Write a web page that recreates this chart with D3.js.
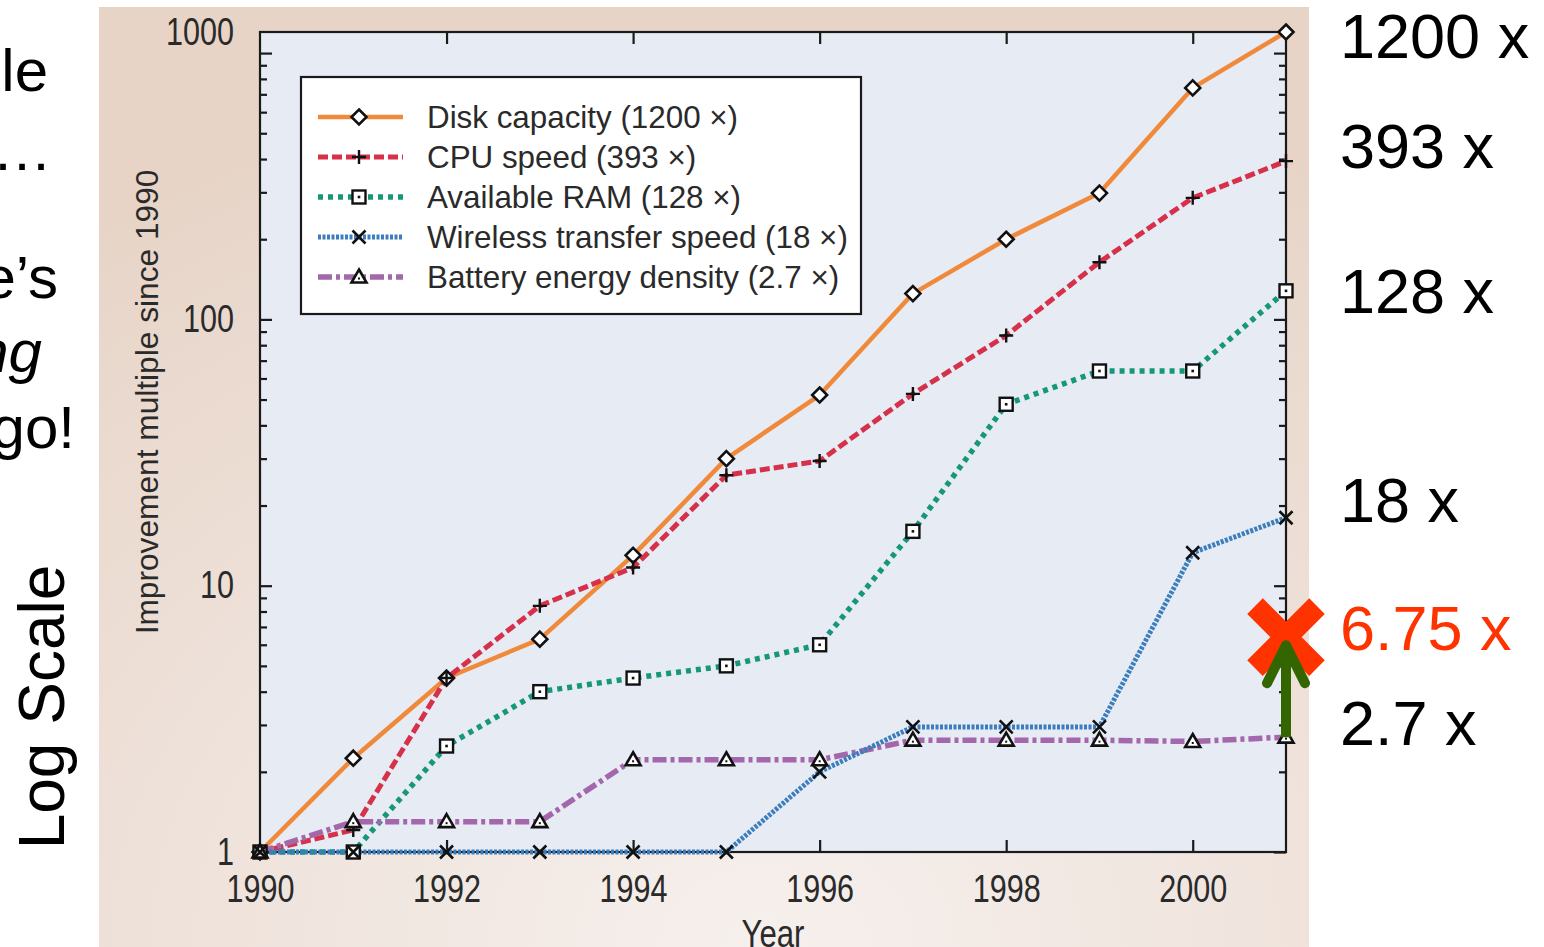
<!DOCTYPE html>
<html><head><meta charset="utf-8">
<script src="https://cdn.jsdelivr.net/npm/d3@7"></script>
<style>html,body{margin:0;padding:0;background:#fff;overflow:hidden}</style>
</head><body><svg id="c" width="1544" height="947"></svg>
<script>
// ---------- data ----------
const years = [1990,1991,1992,1993,1994,1995,1996,1997,1998,1999,2000,2001];
const seriesNames = ["Disk capacity (1200 \u00d7)","CPU speed (393 \u00d7)","Available RAM (128 \u00d7)","Wireless transfer speed (18 \u00d7)","Battery energy density (2.7 \u00d7)"];
const diskCapacity   = [1, 2.25, 4.5, 6.3, 13, 30, 52, 125, 200, 298, 740, 1200];
const cpuSpeed       = [1, 1.21, 4.5, 8.4, 11.7, 26, 29.4, 52.5, 87, 164, 286, 393];
const availableRam   = [1, 1, 2.5, 4.0, 4.5, 5.0, 6.0, 16, 48, 64, 64, 128];
const wirelessSpeed  = [1, 1, 1, 1, 1, 1, 2.0, 2.95, 2.95, 2.95, 13.3, 18];
const batteryDensity = [1, 1.3, 1.3, 1.3, 2.22, 2.22, 2.22, 2.63, 2.63, 2.63, 2.6, 2.7];
const xTickYears = [1990,1992,1994,1996,1998,2000];
const yLabelValues = [1,10,100,1200];
const yLabelTexts = ["1","10","100","1000"];
const yMajorTicks = [1,10,100,1000];
const yMinorTicks = [2,3,4,5,6,7,8,9,20,30,40,50,60,70,80,90,200,300,400,500,600,700,800,900];
const endLabels = ["1200 x","393 x","128 x","18 x","6.75 x","2.7 x"];
const endValues = [1200,393,128,18,6.75,2.7];
const projectedValue = 6.75;
const batteryEnd = 2.7;
const sideFragments = ["le","\u2026","e\u2019s","ng","go!"];
const sideTitle = "Log Scale";
const xTitle = "Year";
const yTitle = "Improvement multiple since 1990";

// ---------- layout / style ----------
const W = 1544, H = 947;
const plot = {l:260, r:1286, t:32, b:852};
const styles = [
  {color:"#f08a3a", width:4.5, dash:null,        marker:"diamond"},
  {color:"#d6304a", width:5,   dash:"10,4",      marker:"plus"},
  {color:"#17977a", width:5.5, dash:"5,5",       marker:"square"},
  {color:"#3b7dbd", width:5,   dash:"3,1.5",     marker:"times"},
  {color:"#a467ab", width:5.5, dash:"14,4,4,4",  marker:"triangle"}
];
const seriesData = [diskCapacity, cpuSpeed, availableRam, wirelessSpeed, batteryDensity];
const drawOrder = [0,1,2,4,3];
const condensedFont = "'Liberation Sans Narrow','Liberation Sans',Arial,sans-serif";
const plainFont = "'Liberation Sans',Arial,sans-serif";

const svg = d3.select("#c");
const defs = svg.append("defs");
const grad = defs.append("radialGradient").attr("id","panelGrad")
  .attr("cx","55%").attr("cy","100%").attr("r","95%");
grad.append("stop").attr("offset","0%").attr("stop-color","#f6f0ed");
grad.append("stop").attr("offset","55%").attr("stop-color","#eee1d9");
grad.append("stop").attr("offset","100%").attr("stop-color","#e7d4c7");

// panel
svg.append("rect").attr("x",99).attr("y",7).attr("width",1309-99).attr("height",H-7).attr("fill","url(#panelGrad)");

const x = d3.scaleLinear().domain([1990,2001]).range([plot.l, plot.r]);
const y = d3.scaleLog().domain([1,1200]).range([plot.b, plot.t]);

// plot background
svg.append("rect").attr("x",plot.l).attr("y",plot.t).attr("width",plot.r-plot.l).attr("height",plot.b-plot.t).attr("fill","#e6ebf4");

function condenseFactor(text, fontSize, family, target){
  const t = svg.append("text").attr("font-family",family).attr("font-size",fontSize).text(text);
  const w = t.node().getComputedTextLength(); t.remove();
  return target / w;
}

// ---------- axes ticks ----------
const axesG = svg.append("g");
function tickAxis(axis, tr){
  const g = axesG.append("g").attr("transform",tr).call(axis);
  g.select(".domain").remove();
  g.selectAll("line").attr("stroke","#1a1a1a").attr("stroke-width",2.2);
  return g;
}
tickAxis(d3.axisLeft(y).tickValues(yMajorTicks).tickSizeInner(-12).tickSizeOuter(0).tickFormat(""), `translate(${plot.l},0)`);
tickAxis(d3.axisLeft(y).tickValues(yMinorTicks).tickSizeInner(-7).tickSizeOuter(0).tickFormat(""), `translate(${plot.l},0)`);
tickAxis(d3.axisRight(y).tickValues(yMajorTicks).tickSizeInner(-12).tickSizeOuter(0).tickFormat(""), `translate(${plot.r},0)`);
tickAxis(d3.axisRight(y).tickValues(yMinorTicks).tickSizeInner(-7).tickSizeOuter(0).tickFormat(""), `translate(${plot.r},0)`);
tickAxis(d3.axisBottom(x).tickValues(xTickYears.slice(1)).tickSizeInner(-12).tickSizeOuter(0).tickFormat(""), `translate(0,${plot.b})`);
tickAxis(d3.axisTop(x).tickValues(xTickYears.slice(1)).tickSizeInner(-12).tickSizeOuter(0).tickFormat(""), `translate(0,${plot.t})`);

// tick labels
const tickFont = 38;
const kTick = condenseFactor("1992", tickFont, condensedFont, 68);
const xl = axesG.append("g").attr("transform",`translate(0,${plot.b})`)
  .call(d3.axisBottom(x).tickValues(xTickYears).tickSize(0).tickPadding(23).tickFormat(d3.format("d")));
xl.select(".domain").remove();
xl.selectAll("text").attr("font-family",condensedFont).attr("font-size",tickFont).attr("fill","#2a2a2a")
  .attr("x",0).attr("transform",`scale(${kTick},1)`);

const yl = axesG.append("g").attr("transform",`translate(${plot.l},0)`)
  .call(d3.axisLeft(y).tickValues(yLabelValues).tickSize(0).tickPadding(26).tickFormat((d,i)=>yLabelTexts[i]));
yl.select(".domain").remove();
yl.selectAll("text").attr("font-family",condensedFont).attr("font-size",tickFont).attr("fill","#2a2a2a")
  .attr("x",0).attr("transform",`translate(-26,0) scale(${kTick},1)`);

// frame
svg.append("rect").attr("x",plot.l).attr("y",plot.t).attr("width",plot.r-plot.l).attr("height",plot.b-plot.t)
  .attr("fill","none").attr("stroke","#1a1a1a").attr("stroke-width",2.2);

// axis titles
const kYT = condenseFactor(yTitle, 32, condensedFont, 465);
svg.append("g").attr("transform","translate(158,402) rotate(-90)")
  .append("text").attr("text-anchor","middle").attr("font-family",condensedFont).attr("font-size",32).attr("fill","#2a2a2a")
  .attr("transform",`scale(${kYT},1)`).text(yTitle);
const kXT = condenseFactor(xTitle, 38, condensedFont, 63);
svg.append("g").attr("transform","translate(773,947)")
  .append("text").attr("text-anchor","middle").attr("font-family",condensedFont).attr("font-size",38).attr("fill","#2a2a2a")
  .attr("transform",`scale(${kXT},1)`).text(xTitle);

// ---------- lines ----------
const line = d3.line().x((d,i)=>x(years[i])).y(d=>y(d));
const linesG = svg.append("g");
drawOrder.forEach(si=>{
  const st = styles[si];
  linesG.append("path").datum(seriesData[si]).attr("d",line)
    .attr("fill","none").attr("stroke",st.color).attr("stroke-width",st.width)
    .attr("stroke-dasharray",st.dash).attr("stroke-linejoin","round");
});

// ---------- markers ----------
function drawMarker(g, type){
  const k="#111";
  if(type==="diamond"){
    g.append("path").attr("d","M0,-7.5L7.5,0L0,7.5L-7.5,0Z").attr("fill","#fff").attr("stroke",k).attr("stroke-width",2.6);
  } else if(type==="plus"){
    g.append("path").attr("d","M-7,0H7M0,-7V7").attr("stroke",k).attr("stroke-width",2.4);
  } else if(type==="square"){
    g.append("rect").attr("x",-6.5).attr("y",-6.5).attr("width",13).attr("height",13).attr("fill","#fff").attr("stroke",k).attr("stroke-width",2.4);
    g.append("rect").attr("x",-1.3).attr("y",-1.3).attr("width",2.6).attr("height",2.6).attr("fill",k);
  } else if(type==="times"){
    g.append("path").attr("d","M-6.5,-6.5L6.5,6.5M-6.5,6.5L6.5,-6.5").attr("stroke",k).attr("stroke-width",2.6);
  } else if(type==="triangle"){
    g.append("path").attr("d","M0,-7.5L7.5,5.5L-7.5,5.5Z").attr("fill","#fff").attr("stroke",k).attr("stroke-width",2.6).attr("stroke-linejoin","miter");
    g.append("rect").attr("x",-1).attr("y",0.5).attr("width",2).attr("height",2).attr("fill",k);
  }
}
const markersG = svg.append("g");
drawOrder.forEach(si=>{
  seriesData[si].forEach((v,i)=>{
    const g = markersG.append("g").attr("transform",`translate(${x(years[i])},${y(v)})`);
    drawMarker(g, styles[si].marker);
  });
});

// ---------- legend ----------
const leg = svg.append("g");
leg.append("rect").attr("x",301).attr("y",77).attr("width",560).attr("height",237).attr("fill","#fff").attr("stroke","#1a1a1a").attr("stroke-width",2.2);
const legFont = 32;
let maxW = 0;
seriesNames.forEach(n=>{ const t=svg.append("text").attr("font-family",condensedFont).attr("font-size",legFont).text(n); maxW=Math.max(maxW,t.node().getComputedTextLength()); t.remove(); });
const kLeg = 421/maxW;
seriesNames.forEach((n,i)=>{
  const st = styles[i];
  const ry = 117 + 40*i;
  leg.append("path").attr("d",`M318,${ry}H403`).attr("stroke",st.color).attr("stroke-width",st.width).attr("stroke-dasharray",st.dash).attr("fill","none");
  drawMarker(leg.append("g").attr("transform",`translate(359,${ry})`), st.marker);
  leg.append("g").attr("transform",`translate(427,${ry+11})`).append("text")
    .attr("font-family",condensedFont).attr("font-size",legFont).attr("fill","#2a2a2a")
    .attr("transform",`scale(${kLeg},1)`).text(n);
});

// ---------- annotations ----------
const ann = svg.append("g");
const annOffsets = [26,7,22,4,19,8];
endLabels.forEach((t,i)=>{
  ann.append("text").attr("x",1340).attr("y",y(endValues[i])+annOffsets[i])
    .attr("font-family",plainFont).attr("font-size",63)
    .attr("fill", endValues[i]===projectedValue ? "#ff3300" : "#000").text(t);
});
// red X at projected value
const px = x(2001), py = y(projectedValue)+6;
ann.append("path").attr("d",`M${px-31},${py-31}L${px+31},${py+31}M${px-31},${py+31}L${px+31},${py-31}`)
  .attr("stroke","#ff3300").attr("stroke-width",22).attr("fill","none");
// green arrow from battery value up to the X
const ay0 = y(batteryEnd), ay1 = y(projectedValue)+12;
ann.append("path").attr("d",`M${px},${ay0}V${ay1}`).attr("stroke","#336600").attr("stroke-width",10).attr("fill","none");
ann.append("path").attr("d",`M${px-19},${ay1+40}L${px},${ay1+2}L${px+19},${ay1+40}`)
  .attr("stroke","#336600").attr("stroke-width",10).attr("fill","none").attr("stroke-linecap","round").attr("stroke-linejoin","round");

// ---------- left cut-off text ----------
const side = svg.append("g").attr("font-family",plainFont).attr("font-size",60).attr("fill","#000");
const fragX = [48,52,58,42,75];
const fragY = [91,170,298,372,448];
sideFragments.forEach((t,i)=>{
  side.append("text").attr("x",fragX[i]).attr("y",fragY[i]).attr("text-anchor","end")
    .attr("font-style", i===3 ? "italic" : "normal").text(t);
});
side.append("text").attr("transform","translate(64,707) rotate(-90)").attr("text-anchor","middle").attr("font-size",64).text(sideTitle);
</script></body></html>
